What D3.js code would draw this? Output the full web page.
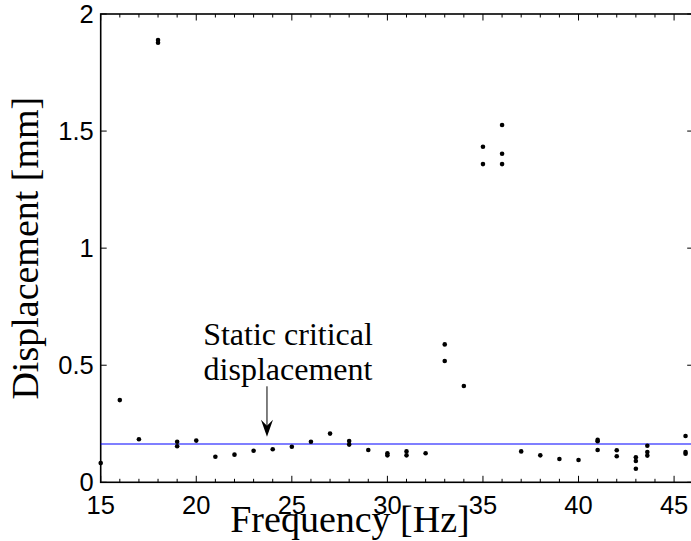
<!DOCTYPE html>
<html>
<head>
<meta charset="utf-8">
<script src="https://cdn.jsdelivr.net/npm/d3@7"></script>
<style>
  html, body { margin: 0; padding: 0; background: #fff; }
  svg { display: block; }
</style>
</head>
<body>
<svg id="chart" width="691" height="541"></svg>
<script>
// ---- data ----
const frequency = [15,16,17,18,18,19,19,20,21,22,23,24,25,26,27,28,28,29,30,30,31,31,32,33,33,34,35,35,36,36,36,37,38,39,40,41,41,41,42,42,43,43,43,43.6,43.6,43.6,45.6,45.6,45.6];
const displacement = [0.082,0.351,0.184,1.889,1.877,0.173,0.154,0.178,0.109,0.118,0.135,0.141,0.152,0.173,0.208,0.176,0.161,0.138,0.124,0.115,0.132,0.115,0.124,0.589,0.518,0.411,1.433,1.359,1.526,1.403,1.359,0.132,0.115,0.0995,0.095,0.181,0.175,0.138,0.137,0.111,0.107,0.091,0.058,0.156,0.129,0.114,0.198,0.129,0.122];
const staticCritical = 0.1636;
const xTicks = [15,20,25,30,35,40,45];
const yTicks = [0,0.5,1,1.5,2];
const xDomain = [15,46];
const yDomain = [0,2];
const annotationLines = ["Static critical","displacement"];
const annotationTextAt = [24.8, 0.587, 0.437];   // x (Hz), baseline line1, baseline line2 (mm)
const arrowAt = [23.7, 0.41, 0.194];              // x (Hz), tail y, tip y (mm)

(function () {
const svg = d3.select("#chart");
const L = 100.7, R = 693.2, T = 14, B = 482.3;
const x = d3.scaleLinear().domain(xDomain).range([L, R]);
const y = d3.scaleLinear().domain(yDomain).range([B, T]);

svg.append("rect").attr("width",691).attr("height",541).attr("fill","#fff");

const minorX = d3.range(16, 46, 1).filter(v => v % 5 !== 0);
const tg = svg.append("g").attr("stroke","#000").attr("stroke-width",1);
minorX.forEach(v => {
  tg.append("line").attr("x1",x(v)).attr("x2",x(v)).attr("y1",B).attr("y2",B-3.5);
  tg.append("line").attr("x1",x(v)).attr("x2",x(v)).attr("y1",T).attr("y2",T+3.5);
});
xTicks.forEach(v => {
  tg.append("line").attr("x1",x(v)).attr("x2",x(v)).attr("y1",B).attr("y2",B-6.5);
  tg.append("line").attr("x1",x(v)).attr("x2",x(v)).attr("y1",T).attr("y2",T+6.5);
});
yTicks.forEach(v => {
  tg.append("line").attr("x1",L).attr("x2",L+6).attr("y1",y(v)).attr("y2",y(v));
  tg.append("line").attr("x1",R).attr("x2",R-6).attr("y1",y(v)).attr("y2",y(v));
});

svg.append("rect").attr("x",L).attr("y",T).attr("width",R-L).attr("height",B-T)
  .attr("fill","none").attr("stroke","#000").attr("stroke-width",1.6);

svg.append("g").selectAll("text").data(xTicks).join("text")
  .attr("x", d => x(d)).attr("y", B + 32)
  .attr("text-anchor","middle")
  .attr("font-family","Liberation Sans, Arial, sans-serif").attr("font-size",25.5)
  .text(d => d3.format("")(d));
svg.append("g").selectAll("text").data(yTicks).join("text")
  .attr("x", L - 7).attr("y", d => y(d)).attr("dy","0.36em")
  .attr("text-anchor","end")
  .attr("font-family","Liberation Sans, Arial, sans-serif").attr("font-size",25.5)
  .text(d => d3.format("")(d));

svg.append("line").attr("x1",x(xDomain[0])).attr("x2",x(xDomain[1]))
  .attr("y1",y(staticCritical)).attr("y2",y(staticCritical))
  .attr("stroke","#0000ff").attr("stroke-width",1.2);

svg.append("g").selectAll("circle").data(frequency).join("circle")
  .attr("cx",(d) => x(d)).attr("cy",(d,i) => y(displacement[i])).attr("r",2.3).attr("fill","#000");

const ann = svg.append("g").attr("font-family","Liberation Serif, Times New Roman, serif").attr("font-size",32).attr("fill","#000");
annotationLines.forEach((t,i) => {
  ann.append("text").attr("x",x(annotationTextAt[0])).attr("y",y(annotationTextAt[i+1]))
    .attr("text-anchor","middle").text(t);
});
const ax = x(arrowAt[0]), ay1 = y(arrowAt[1]), ay2 = y(arrowAt[2]);
svg.append("line").attr("x1",ax).attr("x2",ax).attr("y1",ay1).attr("y2",ay2-10).attr("stroke","#000").attr("stroke-width",1);
svg.append("path").attr("d",`M${ax},${ay2} L${ax-6},${ay2-17} L${ax},${ay2-11} L${ax+6},${ay2-17} Z`).attr("fill","#000");

svg.append("text")
  .attr("x", 350).attr("y", 532)
  .attr("text-anchor","middle")
  .attr("font-family","Liberation Serif, Times New Roman, serif").attr("font-size",38)
  .text("Frequency [Hz]");
svg.append("text")
  .attr("transform", `translate(38,${(T+B)/2}) rotate(-90)`)
  .attr("text-anchor","middle")
  .attr("font-family","Liberation Serif, Times New Roman, serif").attr("font-size",38)
  .text("Displacement [mm]");
})();
</script>
</body>
</html>
